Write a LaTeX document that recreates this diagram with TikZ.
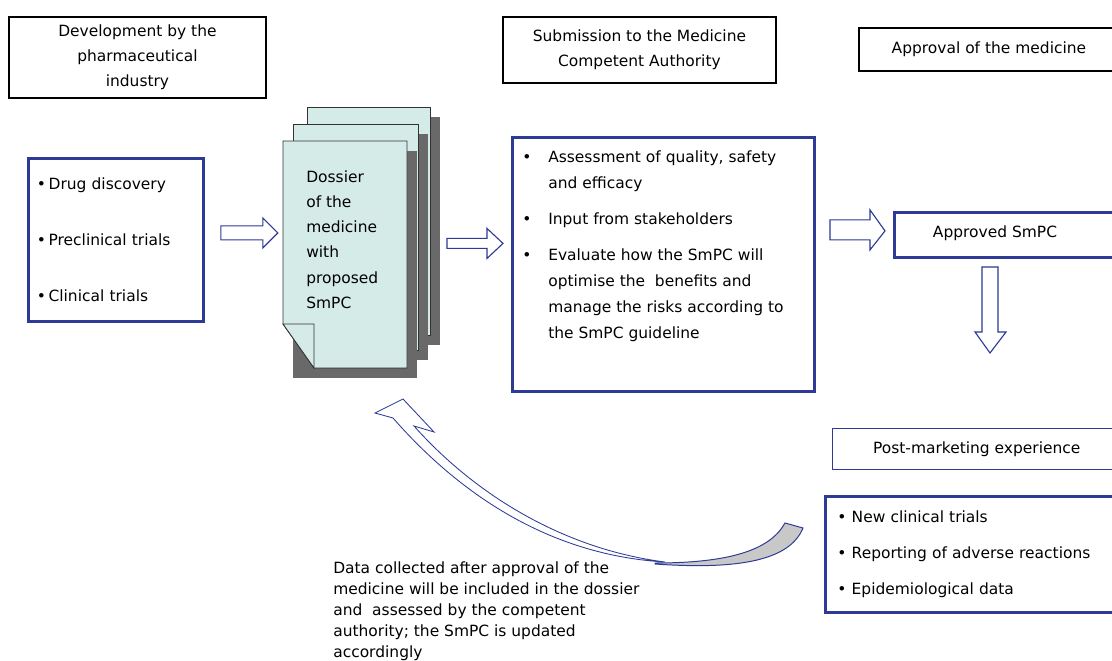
\documentclass[tikz,border=0pt]{standalone}
\usepackage{fontspec}
\setmainfont{DejaVu Sans}
\usetikzlibrary{calc}

\definecolor{boxblue}{RGB}{45,58,150}
\definecolor{pagecyan}{RGB}{213,235,232}
\definecolor{pageshadow}{RGB}{105,105,105}
\definecolor{tailgrey}{RGB}{200,200,200}

\tikzset{
  every node/.style={font=\fontsize{11}{18}\selectfont},
  headbox/.style={draw=black, line width=1.3pt, align=center, inner sep=0pt},
  bluebox/.style={draw=boxblue, line width=2pt, inner sep=0pt},
  thinbox/.style={draw=boxblue, line width=1pt, inner sep=0pt},
  blockarrow/.style={draw=boxblue, line width=0.8pt, fill=white},
  page/.style={draw=black!80, line width=0.6pt, fill=pagecyan},
}

\begin{document}
\begin{tikzpicture}[x=0.025cm, y=-0.025cm]
\fill[white] (0,0) rectangle (1112,661);
\clip (0,0) rectangle (1112,661);

% stage headers
\node[headbox, anchor=north west, minimum width=6.425cm, minimum height=2.025cm] (dev) at (8,16)
  {Development by the\\pharmaceutical\\industry};
\node[headbox, anchor=north west, minimum width=6.825cm, minimum height=1.65cm] (sub) at (502,16)
  {Submission to the Medicine\\Competent Authority};
\node[headbox, anchor=north west, minimum width=6.5cm, minimum height=1.075cm] (appr) at (858,27)
  {Approval of the medicine};

% development
\node[bluebox, anchor=north west, minimum width=4.375cm, minimum height=4.075cm,
      text width=3.95cm, inner xsep=0.2cm, align=left] (drug) at (27,157)
  {\textbullet\,Drug discovery\\[22pt]\textbullet\,Preclinical trials\\[22pt]\textbullet\,Clinical trials};

% dossier pages
\fill[pageshadow] (317,117) rectangle (440,345);
\draw[page] (307,107) rectangle (430,335);
\fill[pageshadow] (303,134) rectangle (428,360);
\draw[page] (293,124) rectangle (418,350);
\fill[pageshadow] (293,151) rectangle (417,378);
\draw[page] (283,141) -- (407,141) -- (407,368) -- (314,368) -- (283,324) -- cycle;
\draw[page] (283,324) -- (314,324) -- (314,368) -- cycle;
\node[anchor=north west, inner sep=0pt, align=left] (dossier) at (306,170)
  {Dossier\\of the\\medicine\\with\\proposed\\SmPC};

% assessment
\node[bluebox, anchor=north west, minimum width=7.55cm, minimum height=6.35cm] (assess) at (511,136) {};
\node[anchor=north west, inner sep=0pt, font=\fontsize{11}{18.5}\selectfont] (assesstxt) at (522,144)
  {\begin{tabular}{@{}l@{\hspace{12pt}}l@{}}
   \textbullet & Assessment of quality, safety\\
               & and efficacy\\[7pt]
   \textbullet & Input from stakeholders\\[7pt]
   \textbullet & Evaluate how the SmPC will\\
               & optimise the\ \ benefits and\\
               & manage the risks according to\\
               & the SmPC guideline
   \end{tabular}};

% approval
\node[bluebox, anchor=north west, minimum width=5.7cm, minimum height=1.125cm] (approved) at (893,211) {};
\node (approvedtxt) at (995,233) {Approved SmPC};

% post-marketing
\node[thinbox, anchor=north west, minimum width=7.2cm, minimum height=1.025cm] (post) at (832,428)
  {Post-marketing experience};
\node[bluebox, anchor=north west, minimum width=7.4cm, minimum height=2.9cm,
      text width=6.9cm, inner xsep=0.3cm, align=left, font=\fontsize{11}{18.5}\selectfont] (pmdata) at (824,495)
  {\textbullet\ New clinical trials\\[7pt]\textbullet\ Reporting of adverse reactions\\[7pt]\textbullet\ Epidemiological data};

% block arrows
\draw[blockarrow] ($(drug.east)+(16,-14)$) -- ++(42,0) -- ++(0,-8) -- ++(15,15)
  -- ++(-15,15) -- ++(0,-8) -- ++(-42,0) -- cycle;
\draw[blockarrow] ($(assess.west)+(-64,-26)$) -- ++(40,0) -- ++(0,-10) -- ++(16,15)
  -- ++(-16,15) -- ++(0,-10) -- ++(-40,0) -- cycle;
\draw[blockarrow] ($(approved.west)+(-63,-15)$) -- ++(40,0) -- ++(0,-10) -- ++(15,21)
  -- ++(-15,19) -- ++(0,-10) -- ++(-40,0) -- cycle;
\draw[blockarrow] (982,267) -- (998,267) -- (998,332) -- (1006,332) -- (990,353)
  -- (975,332) -- (982,332) -- cycle;

% feedback arrow
\coordinate (fbtip) at (375,413);
\coordinate (fbtail) at (803,528);
\draw[boxblue, line width=0.6pt, fill=white] (fbtip) -- (403,399) -- (434,432) -- (414,426)
  .. controls (480,500) and (570,550) .. (665,562)
  .. controls (562,556) and (470,506) .. (393,418) -- cycle;
\draw[boxblue, line width=0.7pt, fill=tailgrey] (655,563) .. controls (730,563) and (770,550) .. (785,523)
  -- (fbtail) .. controls (790,560) and (740,570) .. (655,564) -- cycle;

\node[anchor=north west, inner sep=0pt, align=left, font=\fontsize{11}{15}\selectfont] (note) at (333,561)
  {Data collected after approval of the\\medicine will be included in the dossier\\and\ \ assessed by the competent\\authority; the SmPC is updated\\accordingly};
\end{tikzpicture}
\end{document}
